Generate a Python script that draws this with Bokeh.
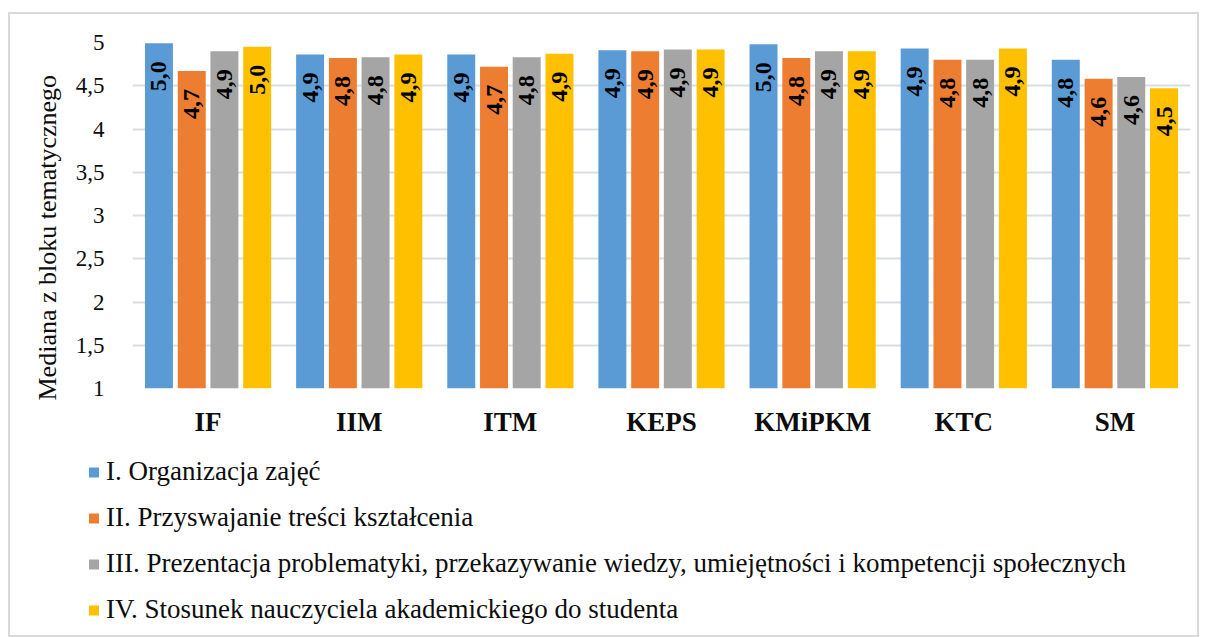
import math
from bokeh.plotting import figure
from bokeh.layouts import column
from bokeh.models import (ColumnDataSource, FactorRange, Range1d, FixedTicker,
                          Legend, LegendItem, Title)
from bokeh.transform import dodge
from bokeh.core.properties import value
from bokeh.embed import file_html
from bokeh.resources import INLINE

# ---------------- data ----------------
categories = ["IF", "IIM", "ITM", "KEPS", "KMiPKM", "KTC", "SM"]

series_names = [
    "I. Organizacja zajęć",
    "II. Przyswajanie treści kształcenia",
    "III. Prezentacja problematyki, przekazywanie wiedzy, umiejętności i kompetencji społecznych",
    "IV. Stosunek nauczyciela akademickiego do studenta",
]

s1_values = [4.99, 4.86, 4.86, 4.91, 4.98, 4.93, 4.80]
s2_values = [4.67, 4.82, 4.72, 4.90, 4.82, 4.80, 4.58]
s3_values = [4.90, 4.83, 4.83, 4.92, 4.90, 4.80, 4.60]
s4_values = [4.95, 4.86, 4.87, 4.92, 4.90, 4.93, 4.47]

s1_labels = ["5,0", "4,9", "4,9", "4,9", "5,0", "4,9", "4,8"]
s2_labels = ["4,7", "4,8", "4,7", "4,9", "4,8", "4,8", "4,6"]
s3_labels = ["4,9", "4,8", "4,8", "4,9", "4,9", "4,8", "4,6"]
s4_labels = ["5,0", "4,9", "4,9", "4,9", "4,9", "4,9", "4,5"]

y_ticks = [1, 1.5, 2, 2.5, 3, 3.5, 4, 4.5, 5]
y_tick_labels = ["1", "1,5", "2", "2,5", "3", "3,5", "4", "4,5", "5"]

y_axis_title = "Mediana z bloku tematycznego"

# ---------------- styles ----------------
colors = ["#5b9bd5", "#ed7d31", "#a5a5a5", "#ffc000"]
offsets = [-0.325, -0.108, 0.108, 0.325]
bar_width = 0.185
FONT = "Liberation Serif"

# ---------------- main chart ----------------
p = figure(
    x_range=FactorRange(*categories, range_padding=0),
    y_range=Range1d(1, 5),
    width=1187, height=436,
    min_border_left=122, min_border_right=7,
    min_border_top=28, min_border_bottom=62,
    output_backend="svg", toolbar_location=None,
)
p.frame_align = False
p.outline_line_color = None
p.background_fill_color = "white"
p.border_fill_color = "white"

all_values = [s1_values, s2_values, s3_values, s4_values]
all_labels = [s1_labels, s2_labels, s3_labels, s4_labels]

for i in range(4):
    src = ColumnDataSource(dict(cat=categories, top=all_values[i], lab=all_labels[i]))
    p.vbar(x=dodge("cat", offsets[i], range=p.x_range), top="top", bottom=1,
           width=bar_width, source=src, fill_color=colors[i], line_color=None)
    p.text(x=dodge("cat", offsets[i], range=p.x_range), y="top", text="lab",
           source=src, angle=math.pi / 2, text_align="right", text_baseline="middle",
           y_offset=18, text_font=value(FONT), text_font_style="bold",
           text_font_size="24px", text_color="#000000")

# y axis
p.yaxis.ticker = FixedTicker(ticks=y_ticks)
p.yaxis.major_label_overrides = {t: l for t, l in zip(y_ticks, y_tick_labels)}
p.yaxis.axis_line_color = None
p.yaxis.major_tick_line_color = None
p.yaxis.minor_tick_line_color = None
p.yaxis.major_label_standoff = 22
p.yaxis.major_label_text_font = FONT
p.yaxis.major_label_text_font_size = "23px"
p.yaxis.major_label_text_color = "#0d0d0d"

ytitle = Title(text=y_axis_title, align="left", offset=-12, standoff=22,
               text_font=FONT, text_font_size="26px", text_font_style="normal",
               text_color="#0d0d0d")
p.add_layout(ytitle, "left")

# x axis
p.xaxis.axis_line_color = None
p.xaxis.major_tick_line_color = None
p.xaxis.minor_tick_line_color = None
p.xaxis.major_label_standoff = 12
p.xaxis.major_label_text_font = FONT
p.xaxis.major_label_text_font_size = "27px"
p.xaxis.major_label_text_font_style = "bold"
p.xaxis.major_label_text_color = "#0d0d0d"

# grid
p.xgrid.grid_line_color = None
p.ygrid.grid_line_color = "#dadde2"
p.ygrid.grid_line_width = 2

# ---------------- legend panel ----------------
p2 = figure(
    x_range=Range1d(0, 1), y_range=Range1d(0, 1),
    width=1187, height=185,
    min_border_left=0, min_border_right=0, min_border_top=0, min_border_bottom=0,
    x_axis_type=None, y_axis_type=None,
    output_backend="svg", toolbar_location=None,
)
p2.frame_align = False
p2.outline_line_color = None
p2.xgrid.grid_line_color = None
p2.ygrid.grid_line_color = None
p2.background_fill_color = "white"
p2.border_fill_color = "white"

items = []
for i in range(4):
    # hidden one-point renderer: it only provides the legend swatch
    r = p2.scatter(x=[0], y=[0], marker="square", size=10,
                   fill_color=colors[i], line_color=None, visible=False)
    items.append(LegendItem(label=series_names[i], renderers=[r]))

legend = Legend(items=items, location=(71, 10), orientation="vertical",
                label_text_font=FONT, label_text_font_size="27px",
                label_text_color="#0d0d0d",
                glyph_width=25, glyph_height=30, label_height=30, spacing=15,
                label_standoff=0, padding=0, margin=0,
                border_line_color=None, background_fill_alpha=0)
p2.add_layout(legend)

layout = column(p, p2, spacing=0,
                styles={"margin-left": "8px", "margin-top": "12px",
                        "border": "2px solid #d9d9d9"})

open("out.html", "w").write(file_html(layout, INLINE))
